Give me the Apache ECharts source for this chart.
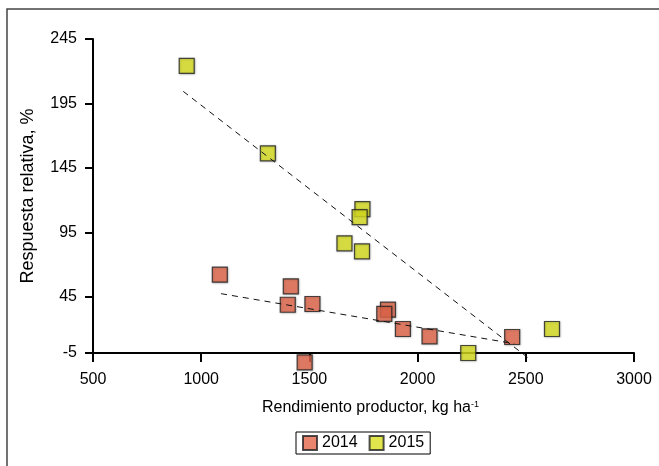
<!DOCTYPE html>
<html>
<head>
<meta charset="utf-8">
<script src="https://cdn.jsdelivr.net/npm/echarts@6/dist/echarts.min.js"></script>
<style>
  html, body { margin: 0; padding: 0; background: #fff; }
  #chart { width: 659px; height: 466px; }
</style>
</head>
<body>
<div id="chart"></div>
<script>
// ---- data ----
const years = ['2014', '2015'];
// 2014 (red)
const x2014 = [1086, 1414, 1400, 1514, 1863, 1846, 1932, 2055, 2437, 1478];
const y2014 = [62.3, 53.2, 39.0, 39.6, 35.2, 32.0, 20.2, 14.5, 14.0, -5.7];
// 2015 (yellow)
const x2015 = [933, 1308, 1745, 1732, 1662, 1743, 2234, 2621];
const y2015 = [224.1, 156.3, 113.2, 107.0, 86.6, 80.3, 1.6, 20.2];
// dashed trend lines (endpoints)
const trend2014X = [1092, 2447];
const trend2014Y = [47.6, 8.8];
const trend2015X = [917, 2512];
const trend2015Y = [204.4, -2.3];
// axis ticks
const xTicks = [500, 1000, 1500, 2000, 2500, 3000];
const yTickLabels = ['-5', '45', '95', '145', '195', '245'];
// the drawn position of the "-5" label on the reference's value scale
const yTickPositions = [1.6, 45, 95, 145, 195, 245];

const zip = (a, b) => a.map((v, i) => [v, b[i]]);

const chart = echarts.init(document.getElementById('chart'), null, { renderer: 'canvas' });
const FONT = '"Liberation Sans", Arial, sans-serif';

const option = {
  animation: false,
  backgroundColor: '#fff',
  grid: { left: 93, top: 39, width: 541, height: 314, containLabel: false },
  xAxis: {
    type: 'value',
    min: xTicks[0],
    max: xTicks[xTicks.length - 1],
    interval: 500,
    splitLine: { show: false },
    axisLine: { onZero: false, lineStyle: { color: '#000', width: 2 } },
    axisTick: { show: true, length: 9, lineStyle: { color: '#000', width: 2 } },
    axisLabel: { color: '#000', fontSize: 16, fontFamily: FONT, margin: 19,
      formatter: function (v) { return String(v); } },
    name: 'Rendimiento productor, kg ha{sup|-1}',
    nameLocation: 'middle',
    nameGap: 47,
    nameTextStyle: {
      color: '#000', fontSize: 16, fontFamily: FONT, padding: [0, 0, 0, 14],
      rich: { sup: { fontSize: 9, fontFamily: FONT, color: '#000', padding: [0, 0, 7, 0] } }
    }
  },
  yAxis: {
    type: 'value',
    min: yTickPositions[0],
    max: yTickPositions[yTickPositions.length - 1],
    splitLine: { show: false },
    axisLine: { onZero: false, lineStyle: { color: '#000', width: 2 } },
    axisTick: { show: true, length: 8, lineStyle: { color: '#000', width: 2 }, customValues: yTickPositions },
    axisLabel: {
      color: '#000', fontSize: 16, fontFamily: FONT, margin: 16,
      customValues: yTickPositions,
      formatter: function (v) {
        const i = yTickPositions.findIndex(p => Math.abs(p - v) < 1e-6);
        return i >= 0 ? yTickLabels[i] : '';
      }
    }
  },
  legend: {
    data: years,
    left: 296,
    top: 432,
    orient: 'horizontal',
    icon: 'rect',
    itemWidth: 14,
    itemHeight: 14,
    itemGap: 11,
    padding: [3, 6, 3, 6],
    borderColor: '#000',
    borderWidth: 1,
    textStyle: { color: '#000', fontSize: 16, fontFamily: FONT, padding: [0, 0, 0, 0] }
  },
  graphic: [
    {
      type: 'rect',
      shape: { x: 7, y: 9, width: 700, height: 520 },
      style: { fill: 'none', stroke: '#444', lineWidth: 1.5 },
      silent: true, z: -10
    },
    {
      type: 'text',
      x: 28, y: 196,
      rotation: Math.PI / 2,
      style: {
        text: 'Respuesta relativa, %',
        font: '18px ' + FONT,
        fill: '#000',
        textAlign: 'center',
        textVerticalAlign: 'middle'
      }
    }
  ],
  series: [
    {
      name: '2014',
      type: 'scatter',
      symbol: 'rect',
      symbolSize: 15,
      clip: false,
      data: zip(x2014, y2014),
      itemStyle: { color: '#E4664A', borderColor: '#222', borderWidth: 1.2,
        shadowColor: 'rgba(0,0,0,0.3)', shadowBlur: 2, shadowOffsetX: 0.5, shadowOffsetY: 0.5 },
      z: 2
    },
    {
      name: '2015',
      type: 'scatter',
      symbol: 'rect',
      symbolSize: 15,
      clip: false,
      data: zip(x2015, y2015),
      itemStyle: { color: '#D9E021', borderColor: '#222', borderWidth: 1.2,
        shadowColor: 'rgba(0,0,0,0.3)', shadowBlur: 2, shadowOffsetX: 0.5, shadowOffsetY: 0.5 },
      z: 2
    },
    {
      name: 'trend2014',
      type: 'line',
      data: zip(trend2014X, trend2014Y),
      showSymbol: false,
      symbol: 'none',
      clip: false,
      lineStyle: { color: '#111', width: 1, type: [6, 5] },
      z: 5,
      silent: true
    },
    {
      name: 'trend2015',
      type: 'line',
      data: zip(trend2015X, trend2015Y),
      showSymbol: false,
      symbol: 'none',
      clip: false,
      lineStyle: { color: '#111', width: 1, type: [6, 5] },
      z: 5,
      silent: true
    }
  ]
};
chart.setOption(option);
</script>
</body>
</html>
